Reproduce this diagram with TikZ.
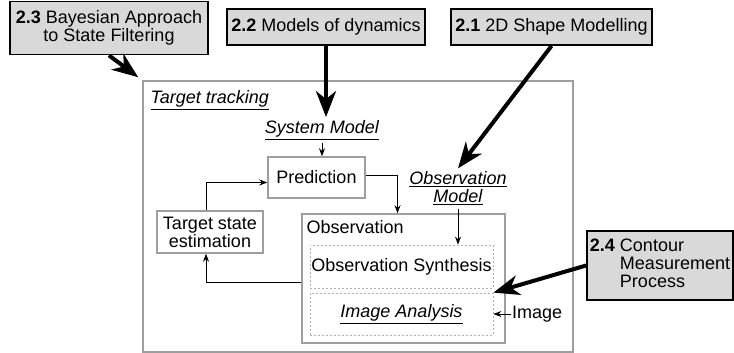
\documentclass[tikz,border=0pt]{standalone}
\usepackage{fontspec}
\setmainfont{Liberation Sans}
\usetikzlibrary{arrows.meta}
\definecolor{secfill}{gray}{0.85}
\definecolor{framegray}{gray}{0.62}

\newcommand{\ulit}[1]{\underline{\textit{#1}}}

\begin{document}
\begin{tikzpicture}[x=1pt,y=-1pt,
	font=\fontsize{18}{18}\selectfont,
	section/.style={draw=black,line width=1.8pt,fill=secfill,inner sep=2pt},
	frame/.style={draw=framegray,line width=1.5pt,inner sep=0pt},
	subbox/.style={draw=framegray!80,dash pattern=on 2pt off 2pt,line width=0.8pt,inner sep=0pt},
	flow/.style={-{Stealth[length=8pt,width=6pt]},line width=0.9pt},
	bigflow/.style={-{Stealth[length=26pt,width=20pt,inset=8pt]},line width=4pt}]
\useasboundingbox (0,0) rectangle (734,353);

% target tracking loop
\node[frame,minimum width=430pt,minimum height=271pt] (tt) at (358,216.5) {};
\node[anchor=west] (ttlab) at (147,100) {\ulit{Target tracking}};
\node (sysmod) at (322,130) {\ulit{System Model}};
\node[frame,minimum width=97pt,minimum height=41pt] (pred) at (316.5,177.5) {Prediction};
\node[frame,align=center,minimum width=106pt,minimum height=42pt] (est) at (210,232) {Target state\\estimation};
\node[align=center] (obsmod) at (458,188.5) {\ulit{Observation}\\\ulit{Model}};
\node[frame,minimum width=203pt,minimum height=129pt] (obs) at (403.5,278.5) {};
\node[anchor=west] (obslab) at (303,227) {Observation};
\node[subbox,minimum width=183pt,minimum height=43pt] (synth) at (401.5,266.5) {Observation Synthesis};
\node[subbox,minimum width=183pt,minimum height=42pt] (anal) at (401.5,314) {\ulit{Image Analysis}};
\node[anchor=west,inner sep=1pt] (img) at (511,314) {Image};

% sections
\node[section,align=center,minimum width=198pt,minimum height=53pt] (s23) at (109,28) {\textbf{2.3} Bayesian Approach\\to State Filtering};
\node[section,minimum width=198pt,minimum height=36pt] (s22) at (326,27) {\textbf{2.2} Models of dynamics};
\node[section,minimum width=201pt,minimum height=36pt] (s21) at (551.5,27) {\textbf{2.1} 2D Shape Modelling};
\node[section,minimum width=146pt,minimum height=69pt] (s24) at (660,265.5)
	{\begin{tabular}{@{}l@{ }l@{}}\textbf{2.4} & Contour\\ & Measurement\\ & Process\end{tabular}};

\draw[flow] (sysmod.south) -- (sysmod.south |- pred.north);
\draw[flow] ([yshift=2pt]pred.east) -| ([xshift=-6pt]obs.north);
\draw[flow] ([xshift=-4pt]est.north) |- ([yshift=-5pt]pred.west);
\draw[flow] ([yshift=-3.5pt]obs.west) -| ([xshift=-4pt]est.south);
\draw[flow] (obsmod.south) -- (obsmod.south |- synth.north);
\draw[flow] (img.west) -- (anal.east);

\draw[bigflow] (s23.south) -- ([xshift=-4pt,yshift=3pt]tt.north west);
\draw[bigflow] (s22.south) -- (s22.south |- sysmod.north);
\draw[bigflow] (s21.south) -- (obsmod.north);
\draw[bigflow] (s24.west) -- (anal.north east);
\end{tikzpicture}
\end{document}
